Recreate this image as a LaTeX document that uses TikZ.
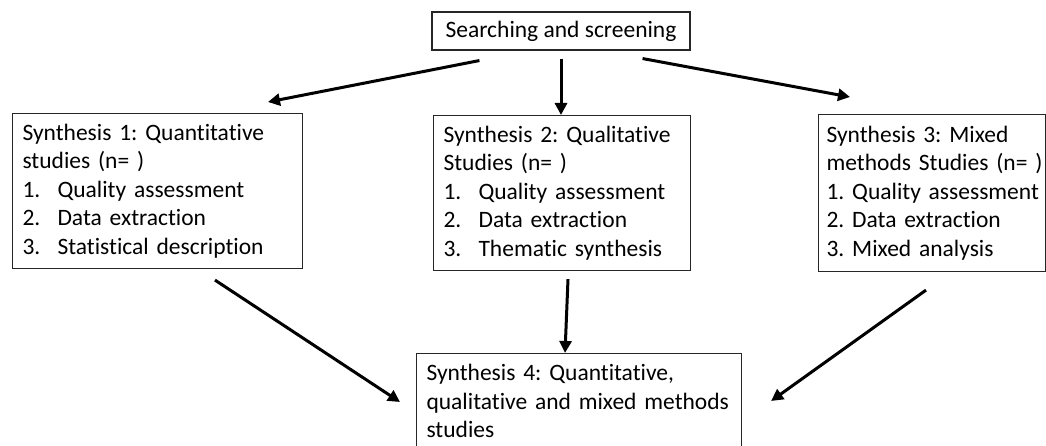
\documentclass[tikz,border=0pt]{standalone}
\usepackage{fontspec}
\setmainfont{Carlito}[Ligatures=NoCommon]
\usetikzlibrary{arrows.meta,calc}
\frenchspacing

\tikzset{
	box/.style={draw=black!85, line width=1.1pt, rectangle, anchor=north west, inner xsep=10pt, inner ysep=4pt, align=left, font=\fontsize{23.5}{28.5}\selectfont},
	arr/.style={line width=3pt, -{Triangle[length=12pt,width=12pt]}}
}
\newcommand{\itm}[1]{\makebox[35pt][l]{#1}}

\begin{document}
\begin{tikzpicture}[x=1pt,y=-1pt]
	\clip (0,0) rectangle (1046,446);
	\fill[white] (0,0) rectangle (1046,446);

	\node[box, anchor=center, align=center, minimum width=258pt, minimum height=38pt] (search) at (561,31) {Searching and screening};

	\node[box, minimum height=155pt, text width=270pt] (syn1) at (12,113) {Synthesis 1: Quantitative\\studies (n= )\\\itm{1.}Quality assessment\\\itm{2.}Data extraction\\\itm{3.}Statistical description};
	\node[box, minimum height=155pt, text width=237pt] (syn2) at (433,115) {Synthesis 2: Qualitative\\Studies (n= )\\\itm{1.}Quality assessment\\\itm{2.}Data extraction\\\itm{3.}Thematic synthesis};
	\node[box, minimum height=157pt, text width=211pt, inner xsep=8pt] (syn3) at (818,114) {Synthesis 3: Mixed\\\mbox{methods Studies (n= )}\\\mbox{1. Quality assessment}\\2. Data extraction\\3. Mixed analysis};
	\node[box, text width=305pt, inner ysep=11pt] (syn4) at (416,353) {Synthesis 4: Quantitative,\\qualitative and mixed methods\\studies};

	\draw[arr] ($(search.south west)+(48,10)$) -- ($(syn1.north west)+(256,-11)$);
	\draw[arr] ($(search.south)+(0,8)$) -- (search.south |- syn2.north);
	\draw[arr] ($(search.south east)+(-48,8)$) -- ($(syn3.north west)+(32,-17)$);

	\draw[arr] ($(syn1.south west)+(203,11)$) -- ($(syn4.north west)+(-16,49)$);
	\draw[arr] ($(syn2.south west)+(135,8)$) -- ($(syn4.north west)+(149,0)$);
	\draw[arr] ($(syn3.south west)+(108,18)$) -- ($(syn4.north east)+(29,48)$);
\end{tikzpicture}
\end{document}
